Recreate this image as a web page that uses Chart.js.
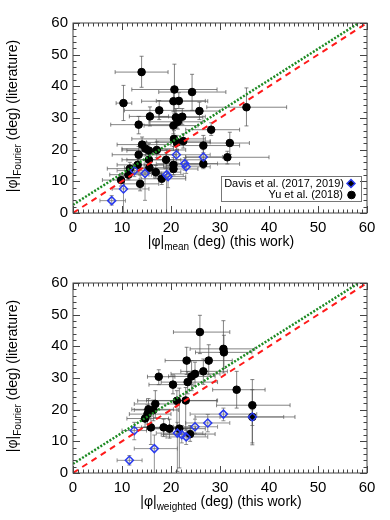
<!DOCTYPE html>
<html>
<head>
<meta charset="utf-8">
<script src="https://cdn.jsdelivr.net/npm/chart.js@4.4.0/dist/chart.umd.min.js"></script>
<style>
  html, body { margin: 0; padding: 0; background: #fff; }
  .panel { position: absolute; left: 0; width: 390px; height: 260px; }
</style>
</head>
<body>
<div class="panel" style="top:0"><canvas id="topChart" width="390" height="260"></canvas></div>
<div class="panel" style="top:260px"><canvas id="bottomChart" width="390" height="260"></canvas></div>
<script>
// axis ticks (deg)
const tickValues = [0, 10, 20, 30, 40, 50, 60];

// --- top panel: |phi|_mean vs |phi|_Fourier ---
const yuMeanX = [14.0, 10.3, 20.7, 24.3, 20.5, 21.6, 17.6, 25.8, 35.4, 15.7, 13.4, 21.0, 22.3, 21.4, 20.5, 28.2, 20.6, 21.2, 22.5, 32.0,
                 26.6, 14.1, 14.8, 15.5, 17.1, 13.4, 15.5, 19.0, 31.5, 26.6, 15.6, 13.2, 20.5, 20.5, 16.9, 11.3, 11.6, 18.1, 9.8, 13.7];
const yuMeanY = [44.5, 34.7, 39.0, 38.2, 35.3, 35.4, 32.4, 32.2, 33.4, 30.5, 27.9, 30.2, 30.4, 28.8, 27.6, 26.3, 23.4, 22.3, 22.7, 22.1,
                 21.3, 21.6, 20.3, 19.7, 19.9, 18.4, 16.8, 16.8, 17.6, 15.5, 14.3, 15.2, 15.2, 13.9, 12.9, 12.1, 14.0, 10.8, 10.4, 9.2];
const yuMeanErrX = [[8.6, 19.4], [8.8, 12.0], [12.0, 29.4], [17.5, 31.2], [14.0, 27.5], [17.0, 27.0], [10.5, 26.0], [21.0, 30.0], [27.3, 43.6], [11.5, 19.5],
                    [7.7, 20.5], [16.0, 26.5], [17.5, 27.0], [15.5, 26.5], [14.5, 25.5], [23.0, 34.0], [12.0, 27.0], [15.0, 28.0], [17.0, 28.0], [27.0, 36.0],
                    [20.5, 34.0], [9.0, 20.0], [10.0, 20.5], [11.0, 21.5], [10.0, 23.0], [8.0, 21.0], [10.0, 22.0], [11.0, 26.0], [23.0, 40.0], [21.0, 34.0],
                    [10.5, 21.0], [9.0, 18.5], [14.5, 26.0], [15.0, 25.5], [12.0, 22.0], [7.5, 15.5], [7.0, 16.0], [14.0, 23.0], [6.0, 13.5], [10.5, 17.5]];
const yuMeanErrY = [[39.7, 49.5], [29.2, 40.3], [31.5, 47.0], [32.4, 43.8], [32.0, 38.5], [33.0, 38.0], [29.5, 35.5], [29.5, 35.0], [27.5, 39.5], [27.5, 33.5],
                    [25.0, 30.5], [27.5, 33.0], [28.0, 33.0], [26.5, 31.0], [25.0, 30.0], [24.5, 28.5], [21.0, 26.0], [20.0, 24.5], [20.5, 25.0], [18.5, 25.5],
                    [19.0, 24.5], [19.5, 24.0], [18.0, 22.5], [17.5, 22.0], [17.5, 22.5], [16.0, 21.0], [14.5, 19.0], [14.0, 19.0], [15.5, 19.5], [14.0, 17.0],
                    [12.5, 16.5], [13.0, 17.5], [13.0, 17.5], [12.0, 16.0], [11.0, 15.0], [10.5, 14.0], [12.0, 16.0], [9.0, 12.5], [8.5, 12.5], [7.0, 12.0]];
const davisMeanX = [7.9, 10.3, 12.5, 14.7, 19.1, 19.4, 21.1, 22.8, 23.1, 26.6];
const davisMeanY = [3.9, 7.6, 13.4, 12.5, 12.1, 11.5, 18.4, 15.6, 14.6, 17.7];
const davisMeanErrX = [[5.5, 10.7], [8.0, 15.5], [9.0, 16.0], [12.0, 18.0], [16.0, 22.5], [16.5, 23.0], [13.0, 28.0], [17.0, 29.5], [18.5, 28.0], [23.0, 30.5]];
const davisMeanErrY = [[2.5, 5.5], [0.2, 11.8], [11.5, 15.5], [4.0, 17.0], [0.0, 20.0], [8.0, 15.0], [16.0, 21.0], [13.5, 17.5], [12.5, 16.5], [15.5, 20.0]];
const fitMeanX = [0, 58.3];
const fitMeanY = [2.6, 60];

// --- bottom panel: |phi|_weighted vs |phi|_Fourier ---
const yuWtdX = [25.9, 30.7, 30.8, 23.2, 27.7, 26.6, 24.9, 24.2, 23.4, 17.5, 20.4, 33.4, 21.2, 23.0, 16.8, 15.4, 16.4, 15.2, 14.7, 15.9,
                18.5, 19.7, 21.7, 23.9, 36.6, 36.6];
const yuWtdY = [44.5, 39.2, 38.1, 35.5, 35.5, 32.1, 31.3, 30.5, 28.7, 30.4, 27.9, 26.3, 22.8, 22.9, 21.8, 20.1, 19.9, 18.6, 17.2, 14.4,
                14.4, 14.0, 14.0, 12.3, 21.4, 17.7];
const yuWtdErrX = [[20.5, 32.0], [23.9, 37.1], [25.0, 36.5], [18.8, 28.0], [22.5, 32.5], [22.0, 31.5], [20.0, 30.0], [19.5, 29.0], [18.0, 29.5], [15.2, 20.8],
                   [15.5, 24.5], [28.5, 39.2], [13.2, 29.3], [15.0, 29.5], [12.5, 21.0], [12.0, 20.5], [12.5, 21.5], [11.5, 20.0], [11.0, 19.5], [12.5, 21.5],
                   [14.0, 24.0], [15.0, 25.0], [16.5, 27.0], [18.5, 29.0], [29.3, 44.3], [24.9, 45.3]];
const yuWtdErrY = [[37.7, 49.8], [31.6, 48.1], [33.0, 43.5], [31.1, 39.7], [31.0, 40.5], [28.0, 36.0], [27.5, 35.0], [26.0, 35.5], [25.0, 32.0], [27.9, 32.6],
                   [25.0, 31.0], [20.5, 32.1], [12.0, 26.0], [13.5, 27.0], [17.5, 26.0], [17.0, 23.5], [16.5, 23.0], [15.5, 21.5], [14.5, 20.0], [9.0, 18.0],
                   [11.5, 17.0], [11.0, 17.0], [1.6, 26.8], [10.0, 15.0], [9.5, 29.5], [8.9, 26.3]];
const davisWtdX = [11.5, 16.6, 12.5, 21.3, 22.2, 23.1, 24.9, 27.5, 30.7, 36.6];
const davisWtdY = [4.0, 7.7, 13.4, 12.6, 12.1, 11.4, 14.6, 15.8, 18.6, 17.7];
const davisWtdErrX = [[9.0, 14.1], [12.5, 21.3], [10.0, 15.0], [17.0, 26.5], [18.0, 27.0], [19.0, 27.5], [20.5, 29.5], [23.0, 32.0], [23.9, 37.5], [30.0, 43.0]];
const davisWtdErrY = [[2.5, 5.5], [0.0, 12.0], [10.5, 16.0], [0.5, 16.0], [9.5, 15.0], [9.0, 14.0], [12.5, 17.0], [13.0, 18.5], [16.5, 20.5], [15.0, 20.0]];
const fitWtdX = [0, 58.3];
const fitWtdY = [2.9, 60];

const oneToOneX = [0, 60];
const oneToOneY = [0, 60];

const legendLabels = ['Davis et al. (2017, 2019)', 'Yu et al. (2018)'];

const FONT = '"Liberation Sans", Arial, Helvetica, sans-serif';
Chart.defaults.font.family = FONT;

const pts = (xs, ys) => xs.map((x, i) => ({ x: x, y: ys[i] }));

// grey error bars, drawn under all the points
const errorBars = {
  id: 'errorBars',
  beforeDatasetsDraw(chart) {
    const { ctx, chartArea: a } = chart;
    const sx = chart.scales.x, sy = chart.scales.y;
    ctx.save();
    ctx.beginPath();
    ctx.rect(a.left, a.top, a.right - a.left, a.bottom - a.top);
    ctx.clip();
    chart.data.datasets.forEach(ds => {
      if (!ds.errX) return;
      ctx.strokeStyle = ds.errColor;
      ctx.lineWidth = 1;
      ds.data.forEach((p, i) => {
        const px = sx.getPixelForValue(p.x), py = sy.getPixelForValue(p.y);
        const x0 = sx.getPixelForValue(ds.errX[i][0]), x1 = sx.getPixelForValue(ds.errX[i][1]);
        const y0 = sy.getPixelForValue(ds.errY[i][0]), y1 = sy.getPixelForValue(ds.errY[i][1]);
        const c = 2;
        ctx.beginPath();
        ctx.moveTo(x0, py); ctx.lineTo(x1, py);
        ctx.moveTo(x0, py - c); ctx.lineTo(x0, py + c);
        ctx.moveTo(x1, py - c); ctx.lineTo(x1, py + c);
        ctx.moveTo(px, y0); ctx.lineTo(px, y1);
        ctx.moveTo(px - c, y0); ctx.lineTo(px + c, y0);
        ctx.moveTo(px - c, y1); ctx.lineTo(px + c, y1);
        ctx.stroke();
      });
    });
    ctx.restore();
  }
};

// box frame with inward ticks on all four sides
const frame = {
  id: 'frame',
  afterDatasetsDraw(chart) {
    const { ctx, chartArea: a } = chart;
    const sx = chart.scales.x, sy = chart.scales.y;
    ctx.save();
    ctx.strokeStyle = '#444';
    ctx.lineWidth = 1;
    ctx.strokeRect(a.left, a.top, a.right - a.left, a.bottom - a.top);
    ctx.beginPath();
    for (let v = 0; v <= 60; v += 1) {
      const len = v % 10 === 0 ? 7 : 3.5;
      const px = Math.round(sx.getPixelForValue(v)) + 0.5;
      ctx.moveTo(px, a.bottom); ctx.lineTo(px, a.bottom - len);
      ctx.moveTo(px, a.top); ctx.lineTo(px, a.top + len);
    }
    for (let v = 0; v <= 60; v += 2) {
      const len = v % 10 === 0 ? 7 : 3.5;
      const py = Math.round(sy.getPixelForValue(v)) + 0.5;
      ctx.moveTo(a.left, py); ctx.lineTo(a.left + len, py);
      ctx.moveTo(a.right, py); ctx.lineTo(a.right - len, py);
    }
    ctx.stroke();
    ctx.restore();
  }
};

function subText(ctx, parts, cx, baseY, size) {
  const big = size + 'px ' + FONT;
  const small = Math.round(size * 0.68) + 'px ' + FONT;
  ctx.font = big; const w0 = ctx.measureText(parts[0]).width; const w2 = ctx.measureText(parts[2]).width;
  ctx.font = small; const w1 = ctx.measureText(parts[1]).width;
  let x = cx - (w0 + w1 + w2) / 2;
  ctx.textAlign = 'left';
  ctx.textBaseline = 'alphabetic';
  ctx.font = big; ctx.fillText(parts[0], x, baseY); x += w0;
  ctx.font = small; ctx.fillText(parts[1], x, baseY + size * 0.28); x += w1;
  ctx.font = big; ctx.fillText(parts[2], x, baseY);
}

// axis titles with subscripts, and the boxed legend
const decorations = {
  id: 'decorations',
  afterDraw(chart, args, opts) {
    const { ctx, chartArea: a } = chart;
    ctx.save();
    ctx.fillStyle = '#000';
    subText(ctx, opts.xTitle, 221, 246, 14);
    ctx.translate(17, (a.top + a.bottom) / 2 - 2);
    ctx.rotate(-Math.PI / 2);
    subText(ctx, opts.yTitle, 0, 0, 14);
    ctx.restore();

    if (opts.legend) {
      ctx.save();
      ctx.strokeStyle = '#777';
      ctx.lineWidth = 1;
      ctx.strokeRect(221.5, 176.5, 140, 25);
      ctx.font = '11px ' + FONT;
      ctx.fillStyle = '#000';
      ctx.textAlign = 'right';
      ctx.textBaseline = 'middle';
      ctx.fillText(legendLabels[0], 344, 183.5);
      ctx.fillText(legendLabels[1], 343, 195);
      const davis = chart.data.datasets[2], yu = chart.data.datasets[3];
      ctx.strokeStyle = davis.borderColor; ctx.lineWidth = davis.borderWidth;
      Chart.helpers.drawPoint(ctx, { pointStyle: 'rectRot', radius: davis.pointRadius, borderWidth: davis.borderWidth, rotation: 0 }, 351, 183.5);
      ctx.fillStyle = yu.backgroundColor; ctx.strokeStyle = yu.borderColor; ctx.lineWidth = 1;
      Chart.helpers.drawPoint(ctx, { pointStyle: 'circle', radius: yu.pointRadius, borderWidth: 1, rotation: 0 }, 351.5, 195);
      ctx.restore();
    }
  }
};

function makeChart(id, yu, yuEx, yuEy, dv, dvEx, dvEy, fit, xTitle, legend) {
  return new Chart(document.getElementById(id), {
    type: 'scatter',
    data: {
      datasets: [
        { data: pts(oneToOneX, oneToOneY), showLine: true, borderColor: '#ff1a1a', borderWidth: 2,
          borderDash: [6, 5], pointRadius: 0, fill: false },
        { data: fit, showLine: true, borderColor: '#1c8a22', borderWidth: 2.5,
          borderDash: [2, 1.6], pointRadius: 0, fill: false },
        { data: dv, errX: dvEx, errY: dvEy, errColor: 'rgba(110,110,110,0.75)', pointStyle: 'rectRot',
          pointRadius: 4, borderColor: '#2a3bef', borderWidth: 1.5, backgroundColor: 'rgba(0,0,0,0)' },
        { data: yu, errX: yuEx, errY: yuEy, errColor: 'rgba(80,80,80,0.7)', pointStyle: 'circle',
          pointRadius: 3.8, borderColor: '#000', borderWidth: 1, backgroundColor: '#000' }
      ]
    },
    options: {
      responsive: false,
      animation: false,
      events: [],
      layout: { padding: { top: 23, right: 23, left: 0, bottom: 0 } },
      scales: {
        x: {
          type: 'linear', min: 0, max: 60,
          afterBuildTicks: s => { s.ticks = tickValues.map(v => ({ value: v })); },
          afterFit: s => { s.height = 47; },
          ticks: { color: '#000', font: { size: 15 }, padding: 6, maxRotation: 0, autoSkip: false },
          grid: { display: false, drawTicks: false },
          border: { display: false }
        },
        y: {
          type: 'linear', min: 0, max: 60,
          afterBuildTicks: s => { s.ticks = tickValues.map(v => ({ value: v })); },
          afterFit: s => { s.width = 73; },
          ticks: { color: '#000', font: { size: 15 }, padding: 5, autoSkip: false },
          grid: { display: false, drawTicks: false },
          border: { display: false }
        }
      },
      plugins: {
        legend: { display: false },
        tooltip: { enabled: false },
        decorations: { xTitle: xTitle, yTitle: ['|φ|', 'Fourier', ' (deg) (literature)'], legend: legend }
      }
    },
    plugins: [errorBars, frame, decorations]
  });
}

makeChart('topChart', pts(yuMeanX, yuMeanY), yuMeanErrX, yuMeanErrY,
  pts(davisMeanX, davisMeanY), davisMeanErrX, davisMeanErrY,
  pts(fitMeanX, fitMeanY), ['|φ|', 'mean', ' (deg) (this work)'], true);

makeChart('bottomChart', pts(yuWtdX, yuWtdY), yuWtdErrX, yuWtdErrY,
  pts(davisWtdX, davisWtdY), davisWtdErrX, davisWtdErrY,
  pts(fitWtdX, fitWtdY), ['|φ|', 'weighted', ' (deg) (this work)'], false);
</script>
</body>
</html>
